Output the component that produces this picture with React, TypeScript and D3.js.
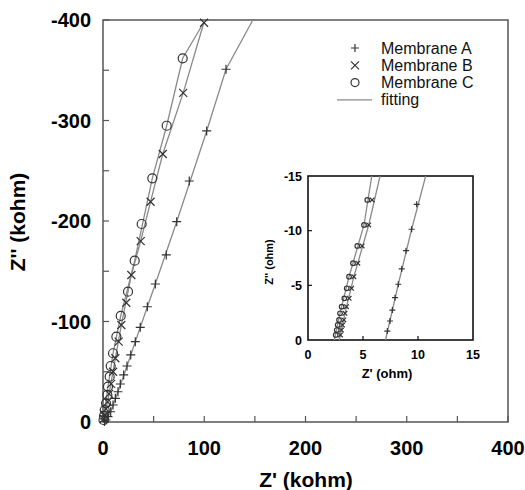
import React, { useRef, useEffect } from "react";
import * as d3 from "d3";

type Pt = [number, number];

// Main plot data (Z' kohm, Z'' kohm)
const membraneA: Pt[] = [
  [1.5, -0.5], [3, -2], [4.9, -5.3], [7.6, -10.2], [9.9, -16.9], [12.2, -23.6],
  [14.8, -30.1], [17.1, -37.8], [20.4, -46.8], [23.7, -55.7], [27.4, -66.7],
  [31.9, -79.9], [36.8, -94.2], [43.8, -114.7], [51.7, -137.3], [62.5, -166.2],
  [72.8, -199.3], [85.2, -239.8], [102.4, -289.6], [121.5, -351],
];
const membraneB: Pt[] = [
  [1, -3], [2, -7], [3, -13], [4.5, -20], [6, -28], [8, -38], [10, -50],
  [12.2, -63.4], [15.5, -79.9], [18.1, -96.5], [23, -118.7], [28, -146.3],
  [37.2, -180], [47, -219.2], [59, -266.7], [79.2, -327.5], [99.8, -397.3],
];
const membraneC: Pt[] = [
  [0.5, -2], [1, -6], [1.7, -11.9], [3, -18.6], [4.3, -26.9], [4.9, -35.1],
  [6.6, -45.1], [7.6, -55.7], [9.9, -68.4], [13.2, -84.9], [17.5, -105.5],
  [24.7, -129.7], [31.3, -160.5], [38.2, -197], [48.7, -242.5], [62.9, -294.8],
  [78.7, -361.9],
];
// fitted curves (main)
const fitA: Pt[] = [
  [0.5, 0], [3, -2], [7.6, -10.2], [14.8, -30.1], [23.7, -55.7], [36.8, -94.2],
  [51.7, -137.3], [72.8, -199.3], [102.4, -289.6], [121.5, -351], [148, -400],
];
const fitB: Pt[] = [
  [0, 0], [2, -7], [6, -28], [12.2, -63.4], [18.1, -96.5], [28, -146.3],
  [37.2, -180], [47, -219.2], [59, -266.7], [79.2, -327.5], [99.8, -398],
];
const fitC: Pt[] = [
  [0, 0], [1.7, -11.9], [4.9, -35.1], [9.9, -68.4], [17.5, -105.5], [31.3, -160.5],
  [48.7, -242.5], [62.9, -294.8], [78.7, -361.9], [99.8, -398],
];

// Inset data (Z' ohm, Z'' ohm)
const insetA: Pt[] = [
  [7.21, -0.82], [7.45, -1.74], [7.67, -2.74], [7.91, -3.87], [8.21, -5.1],
  [8.52, -6.5], [8.91, -8.17], [9.42, -10.13], [9.88, -12.41],
];
const insetC: Pt[] = [
  [2.52, -0.46], [2.61, -0.91], [2.7, -1.37], [2.82, -1.83], [2.91, -2.44],
  [3.06, -3.05], [3.3, -3.81], [3.52, -4.73], [3.73, -5.79], [4.09, -7.02],
  [4.48, -8.6], [5.09, -10.52], [5.39, -12.81],
];
const insetB: Pt[] = [
  [2.95, -0.46], [3.04, -0.91], [3.14, -1.37], [3.26, -1.83], [3.36, -2.44],
  [3.5, -3.05], [3.74, -3.81], [3.96, -4.73], [4.17, -5.79], [4.53, -7.02],
  [4.92, -8.6], [5.52, -10.52], [5.83, -12.81],
];
const insetFitA: Pt[] = [[7.05, 0], [8.21, -5.1], [9.42, -10.13], [10.7, -15]];
const insetFitB: Pt[] = [[2.85, 0], [3.36, -2.44], [4.17, -5.79], [5.52, -10.52], [6.55, -15]];
const insetFitC: Pt[] = [[2.4, 0], [2.91, -2.44], [3.73, -5.79], [5.09, -10.52], [5.8, -15]];

const mainXTicks = [0, 100, 200, 300, 400];
const mainYTicks = [0, -100, -200, -300, -400];
const insetXTicks = [0, 5, 10, 15];
const insetYTicks = [0, -5, -10, -15];
const legendLabels = ["Membrane A", "Membrane B", "Membrane C", "fitting"];

const LINE = "#8a8a8a";
const MARK = "#333";
const FONT = "Liberation Sans, Arial, sans-serif";

function drawMarker(g, kind, x, y, s) {
  if (kind === "plus") {
    g.append("path").attr("d", `M${x - s},${y}H${x + s}M${x},${y - s}V${y + s}`)
      .attr("stroke", MARK).attr("stroke-width", 1.2).attr("fill", "none");
  } else if (kind === "cross") {
    g.append("path").attr("d", `M${x - s},${y - s}L${x + s},${y + s}M${x - s},${y + s}L${x + s},${y - s}`)
      .attr("stroke", MARK).attr("stroke-width", 1.2).attr("fill", "none");
  } else {
    g.append("circle").attr("cx", x).attr("cy", y).attr("r", s)
      .attr("stroke", MARK).attr("stroke-width", 1.2).attr("fill", "none");
  }
}

function App() {
  const svgRef = useRef(null);

  useEffect(() => {
    const svg = d3.select(svgRef.current);
    svg.selectAll("*").remove();

    // Main plot
    const x = d3.scaleLinear().domain([0, 400]).range([103, 508]);
    const y = d3.scaleLinear().domain([0, -400]).range([422, 20]);
    const line = d3.line<Pt>().x((d) => x(d[0])).y((d) => y(d[1]));

    svg.append("rect").attr("x", 103).attr("y", 20).attr("width", 405).attr("height", 402)
      .attr("fill", "none").attr("stroke", "#555").attr("stroke-width", 1.5);

    // ticks (inward)
    d3.range(0, 401, 50).forEach((v) => {
      svg.append("line").attr("x1", x(v)).attr("x2", x(v)).attr("y1", 422).attr("y2", 416)
        .attr("stroke", "#555").attr("stroke-width", 1.2);
      svg.append("line").attr("x1", 103).attr("x2", 109).attr("y1", y(-v)).attr("y2", y(-v))
        .attr("stroke", "#555").attr("stroke-width", 1.2);
    });
    mainXTicks.forEach((v) => {
      svg.append("text").attr("x", x(v)).attr("y", 455).attr("text-anchor", "middle")
        .attr("font-family", FONT).attr("font-weight", "bold").attr("font-size", 20).text(v);
    });
    mainYTicks.forEach((v) => {
      svg.append("text").attr("x", 91).attr("y", y(v) + 7).attr("text-anchor", "end")
        .attr("font-family", FONT).attr("font-weight", "bold").attr("font-size", 20).text(v);
    });
    svg.append("text").attr("x", 306).attr("y", 487).attr("text-anchor", "middle")
      .attr("font-family", FONT).attr("font-weight", "bold").attr("font-size", 21).text("Z' (kohm)");
    svg.append("text").attr("transform", `translate(25,222) rotate(-90)`).attr("text-anchor", "middle")
      .attr("font-family", FONT).attr("font-weight", "bold").attr("font-size", 21).text("Z'' (kohm)");

    [fitA, fitB, fitC].forEach((f) => {
      svg.append("path").attr("d", line(f)).attr("fill", "none").attr("stroke", LINE).attr("stroke-width", 1.3);
    });
    membraneA.forEach((d) => drawMarker(svg, "plus", x(d[0]), y(d[1]), 4.5));
    membraneB.forEach((d) => drawMarker(svg, "cross", x(d[0]), y(d[1]), 4));
    membraneC.forEach((d) => drawMarker(svg, "circle", x(d[0]), y(d[1]), 4.5));

    // Legend
    const kinds = ["plus", "cross", "circle"];
    legendLabels.forEach((lab, i) => {
      const ly = 48 + i * 17.3;
      if (i < 3) drawMarker(svg, kinds[i], 355, ly, 4);
      else svg.append("line").attr("x1", 337).attr("x2", 372).attr("y1", ly).attr("y2", ly)
        .attr("stroke", LINE).attr("stroke-width", 1.3);
      svg.append("text").attr("x", 381).attr("y", ly + 5.5).attr("font-family", FONT)
        .attr("font-size", 16).attr("fill", "#111").text(lab);
    });

    // Inset
    const ix = d3.scaleLinear().domain([0, 15]).range([308, 473]);
    const iy = d3.scaleLinear().domain([0, -15]).range([340, 176]);
    const iline = d3.line<Pt>().x((d) => ix(d[0])).y((d) => iy(d[1]));
    const ins = svg.append("g");
    ins.append("rect").attr("x", 308).attr("y", 176).attr("width", 165).attr("height", 164)
      .attr("fill", "white").attr("stroke", "#111").attr("stroke-width", 1.6);
    [5, 10].forEach((v) => {
      ins.append("line").attr("x1", ix(v)).attr("x2", ix(v)).attr("y1", 340).attr("y2", 336)
        .attr("stroke", "#111").attr("stroke-width", 1.2);
      ins.append("line").attr("x1", 308).attr("x2", 312).attr("y1", iy(-v)).attr("y2", iy(-v))
        .attr("stroke", "#111").attr("stroke-width", 1.2);
    });
    insetXTicks.forEach((v) => {
      ins.append("text").attr("x", ix(v)).attr("y", 359).attr("text-anchor", "middle")
        .attr("font-family", FONT).attr("font-weight", "bold").attr("font-size", 12.5).text(v);
    });
    insetYTicks.forEach((v) => {
      ins.append("text").attr("x", 302).attr("y", iy(v) + 4.5).attr("text-anchor", "end")
        .attr("font-family", FONT).attr("font-weight", "bold").attr("font-size", 12.5).text(v);
    });
    ins.append("text").attr("x", 387).attr("y", 378).attr("text-anchor", "middle")
      .attr("font-family", FONT).attr("font-weight", "bold").attr("font-size", 13).text("Z' (ohm)");
    ins.append("text").attr("transform", `translate(273,262) rotate(-90)`).attr("text-anchor", "middle")
      .attr("font-family", FONT).attr("font-weight", "bold").attr("font-size", 11).text("Z'' (ohm)");

    const clip = svg.append("clipPath").attr("id", "insclip");
    clip.append("rect").attr("x", 308).attr("y", 176).attr("width", 165).attr("height", 164);
    const ip = ins.append("g").attr("clip-path", "url(#insclip)");
    [insetFitA, insetFitB, insetFitC].forEach((f) => {
      ip.append("path").attr("d", iline(f)).attr("fill", "none").attr("stroke", LINE).attr("stroke-width", 1.3);
    });
    insetA.forEach((d) => drawMarker(ip, "plus", ix(d[0]), iy(d[1]), 3));
    insetB.forEach((d) => drawMarker(ip, "cross", ix(d[0]), iy(d[1]), 2.3));
    insetC.forEach((d) => drawMarker(ip, "circle", ix(d[0]), iy(d[1]), 2.3));
  }, []);

  return (
    <div>
      <svg ref={svgRef} width={525} height={490}
        style={{ position: "absolute", left: 0, top: 0, background: "white" }} />
    </div>
  );
}

export default App;
